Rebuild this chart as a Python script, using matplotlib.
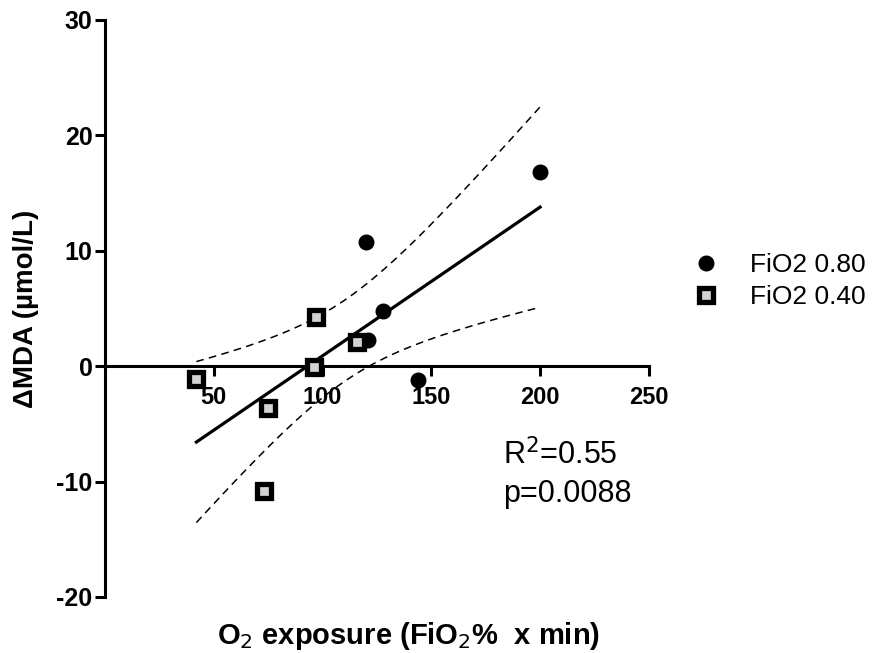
import numpy as np
import matplotlib
matplotlib.use("Agg")
import matplotlib.pyplot as plt

plt.rcParams['font.family'] = ['Liberation Sans', 'DejaVu Sans']
plt.rcParams['axes.unicode_minus'] = False

# FiO2 0.80 group
x_80 = [120, 128, 121, 144, 200]
y_80 = [10.8, 4.8, 2.3, -1.2, 16.8]
# FiO2 0.40 group
x_40 = [42, 75, 73, 97, 96, 116]
y_40 = [-1.1, -3.6, -10.8, 4.3, -0.1, 2.1]

x_ticks = [50, 100, 150, 200, 250]
y_ticks = [-20, -10, 0, 10, 20, 30]
r2_text = "R$^2$=0.55"
p_text = "p=0.0088"

# linear fit over both groups, with 95% confidence band
x_all = np.array(x_80 + x_40, dtype=float)
y_all = np.array(y_80 + y_40, dtype=float)
n = len(x_all)
slope, intercept = np.polyfit(x_all, y_all, 1)
resid = y_all - (slope * x_all + intercept)
s = np.sqrt(np.sum(resid ** 2) / (n - 2))
t_crit = 2.262
xs = np.linspace(x_all.min(), x_all.max(), 100)
fit = slope * xs + intercept
se = s * np.sqrt(1.0 / n + (xs - x_all.mean()) ** 2 / np.sum((x_all - x_all.mean()) ** 2))

fig = plt.figure(figsize=(8.78, 6.53), dpi=100)
ax = fig.add_axes([0.1196, 0.0858, 0.6194, 0.8836])

ax.plot(xs, fit, color="black", lw=2.3, zorder=2)
ax.plot(xs, fit + t_crit * se, color="black", lw=1.1, ls=(0, (5, 3.5)), zorder=2)
ax.plot(xs, fit - t_crit * se, color="black", lw=1.1, ls=(0, (5, 3.5)), zorder=2)

ax.plot(x_80, y_80, "o", color="black", ms=10.5, ls="none", label="FiO2 0.80", zorder=3)
ax.plot(x_40, y_40, "s", mfc="#d3d3d3", mec="black", mew=3.8, ms=10, ls="none",
        label="FiO2 0.40", zorder=4)

ax.set_xlim(0, 250)
ax.set_ylim(-20, 30)
ax.set_xticks(x_ticks)
ax.set_yticks(y_ticks)
ax.set_xticklabels([str(v) for v in x_ticks])
ax.set_yticklabels([str(v) for v in y_ticks])

ax.spines['top'].set_visible(False)
ax.spines['right'].set_visible(False)
ax.spines['bottom'].set_position(('data', 0))
ax.spines['left'].set_linewidth(2.2)
ax.spines['bottom'].set_linewidth(2.2)
ax.tick_params(axis='both', width=2.2, length=7, direction='out')
ax.tick_params(axis='x', pad=7)
ax.tick_params(axis='y', pad=2)
for lab in ax.get_xticklabels():
    lab.set_fontsize(17)
    lab.set_fontweight('bold')
for lab in ax.get_yticklabels():
    lab.set_fontsize(18)
    lab.set_fontweight('bold')

ax.set_ylabel("\u0394MDA (\u00b5mol/L)", fontsize=20, fontweight='bold')
ax.yaxis.set_label_coords(-0.122, 0.5)
fig.text(0.465, 0.026, "O$_2$ exposure (FiO$_2$%  x min)", fontsize=21, fontweight='bold',
         ha='center', va='center')

ax.text(183, -8.5, r2_text, fontsize=22, va='baseline')
ax.text(183, -11.8, p_text, fontsize=22, va='baseline')

fig.legend(loc='center left', bbox_to_anchor=(0.762, 0.570), frameon=False,
           fontsize=19, handletextpad=1.15, labelspacing=0.3, handlelength=1.0)

fig.savefig("out.png", dpi=100)
